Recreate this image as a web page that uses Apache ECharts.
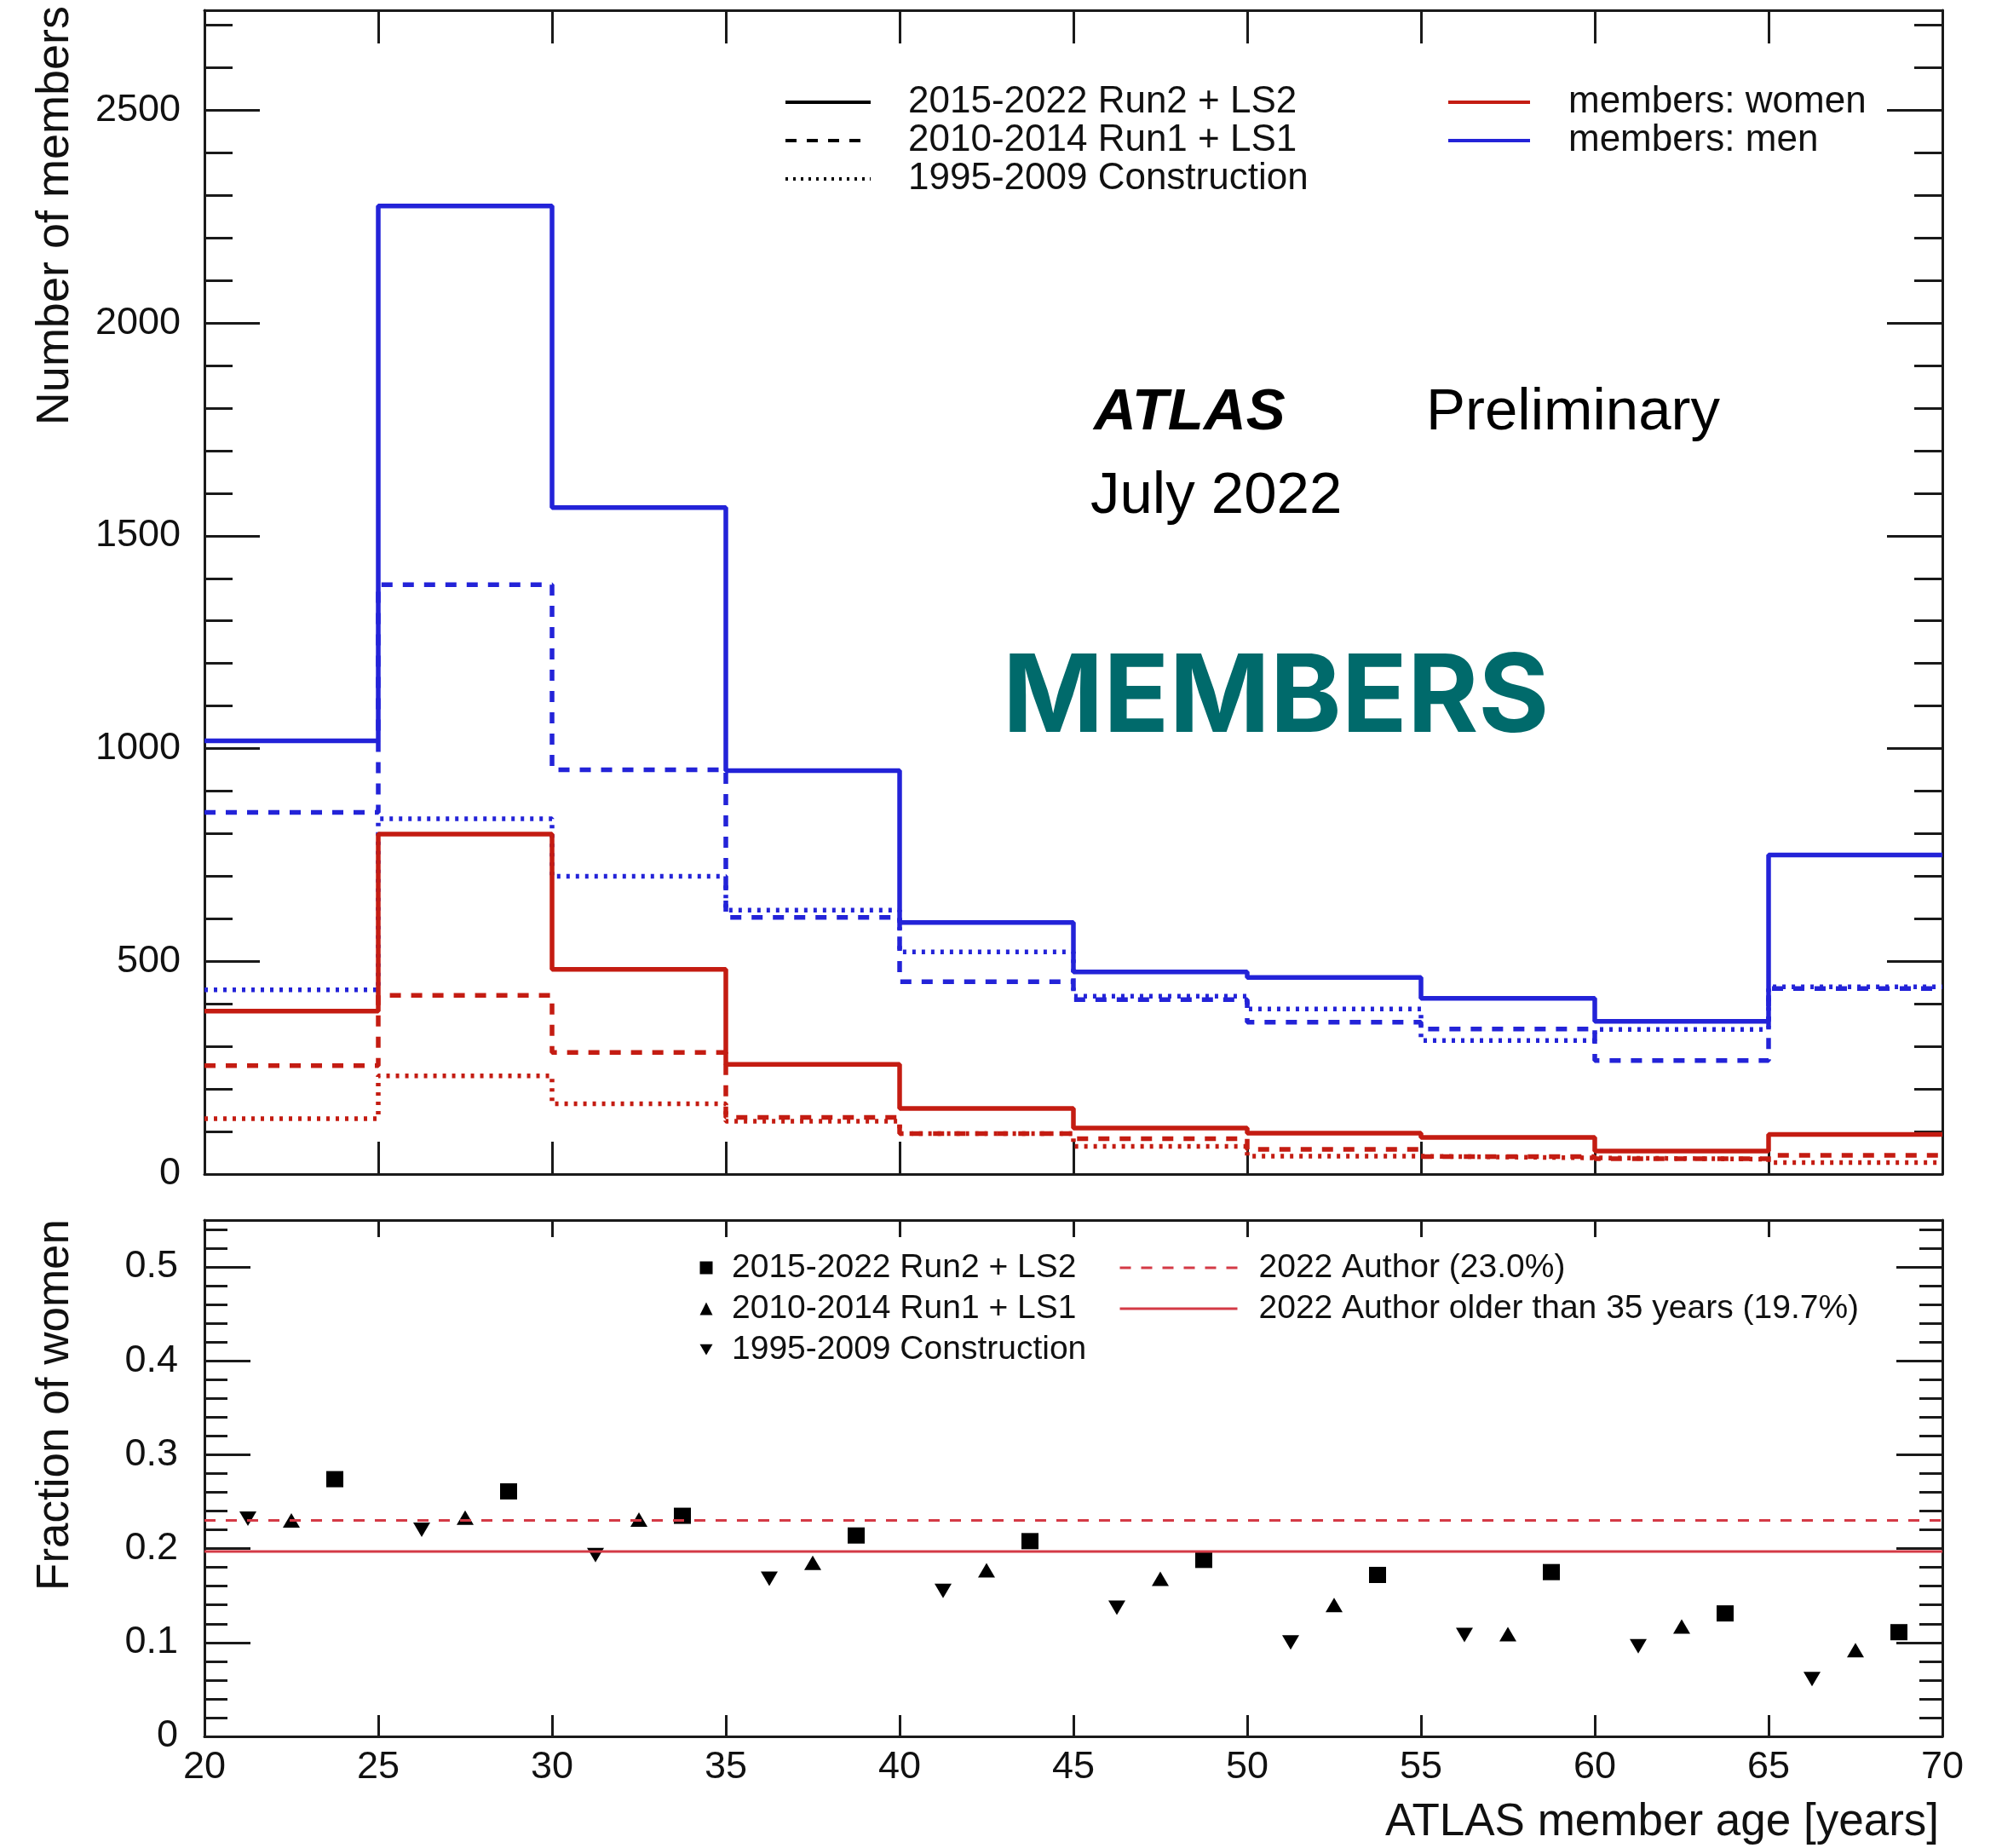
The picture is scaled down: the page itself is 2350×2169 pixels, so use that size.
<!DOCTYPE html>
<html>
<head>
<meta charset="utf-8">
<title>ATLAS members by age</title>
<script src="https://cdn.jsdelivr.net/npm/echarts@6/dist/echarts.min.js"></script>
<style>
  html, body { margin: 0; padding: 0; background: #ffffff; }
  #chart { width: 2350px; height: 2169px; }
</style>
</head>
<body>
<div id="chart"></div>
<script>
// ---- Age binning (years): lower edges plus the last upper edge ----
const ageEdges = [20, 25, 30, 35, 40, 45, 50, 55, 60, 65, 70];
const ageTicks = [20, 25, 30, 35, 40, 45, 50, 55, 60, 65, 70];

// ---- Number of members per age bin ----
const menRun2          = [1018, 2275, 1566, 948, 591, 475, 462, 413, 359, 750];
const menRun1          = [850, 1385, 950, 603, 452, 410, 357, 341, 267, 436];
const menConstruction  = [433, 835, 700, 620, 522, 418, 388, 314, 340, 440];
const womenRun2        = [383, 799, 481, 258, 154, 108, 96, 86, 54, 93];
const womenRun1        = [255, 420, 286, 133, 95, 83, 58, 41, 36, 44];
const womenConstruction = [130, 231, 165, 124, 95, 65, 42, 38, 35, 27];

// ---- Fraction of women per age bin ----
const fracRun2         = [0.274, 0.261, 0.235, 0.214, 0.208, 0.188, 0.172, 0.175, 0.131, 0.111];
const fracRun1         = [0.230, 0.233, 0.231, 0.185, 0.177, 0.168, 0.140, 0.109, 0.117, 0.092];
const fracConstruction = [0.232, 0.220, 0.193, 0.168, 0.155, 0.137, 0.100, 0.108, 0.096, 0.061];

// Position of each period's marker inside its 5-year bin (years from the lower edge)
const markerOffsetRun2 = 3.75;
const markerOffsetRun1 = 2.5;
const markerOffsetConstruction = 1.25;

// ---- Author-list reference fractions ----
const authorFractions = [0.230, 0.197];
const authorLabels = ['2022 Author (23.0%)', '2022 Author older than 35 years (19.7%)'];

// ---- Legend texts ----
const eraLabels = ['2015-2022 Run2 + LS2', '2010-2014 Run1 + LS1', '1995-2009 Construction'];
const genderLabels = ['members: women', 'members: men'];

// ---- Axis tick labels ----
const countTicks = [0, 500, 1000, 1500, 2000, 2500];
const fractionTicks = [0, 0.1, 0.2, 0.3, 0.4, 0.5];
const countMax = 2735;
const fractionMax = 0.55;

// ---- Styling ----
const FONT = 'Liberation Sans';
const INK = '#1a1a1a';
const TEXT = '#111111';
const BLUE = '#2323d8';
const RED = '#c41c12';
const REF_RED = '#d43a46';
const DASH = [13, 12];
const DOT = [4, 7];

const chart = echarts.init(document.getElementById('chart'), null, { renderer: 'canvas' });

// Histogram outline: one point per bin lower edge, plus the closing edge
function histData(vals) {
  return ageEdges.map((e, i) => [e, vals[Math.min(i, vals.length - 1)]]);
}
function markerData(vals, offset) {
  return vals.map((v, i) => [ageEdges[i] + offset, v]);
}

// ---- Axes: each pad gets a full frame with mirrored ticks ----
function xAxisPair(gridIndex, showLabels, bottomLen, topLen) {
  const base = {
    type: 'value', gridIndex, min: ageTicks[0], max: ageTicks[ageTicks.length - 1],
    interval: ageTicks[1] - ageTicks[0],
    splitLine: { show: false },
    axisLine: { show: true, onZero: false, lineStyle: { color: INK, width: 3 } }
  };
  return [
    Object.assign({}, base, {
      position: 'bottom',
      axisTick: { show: true, inside: true, length: bottomLen, lineStyle: { color: INK, width: 3 } },
      axisLabel: showLabels ? {
        show: true, margin: 14, color: TEXT, fontSize: 45, fontFamily: FONT,
        customValues: ageTicks, formatter: v => String(v)
      } : { show: false }
    }),
    Object.assign({}, base, {
      position: 'top',
      axisTick: { show: true, inside: true, length: topLen, lineStyle: { color: INK, width: 3 } },
      axisLabel: { show: false }
    })
  ];
}

function yAxisSet(gridIndex, max, ticks, minorStep, majorLen, minorLen, labelMargin) {
  const major = ticks[1] - ticks[0];
  const common = { type: 'value', gridIndex, min: 0, max, splitLine: { show: false } };
  const frameLine = { show: true, onZero: false, lineStyle: { color: INK, width: 3 } };
  const axes = [];
  ['left', 'right'].forEach(pos => {
    axes.push(Object.assign({}, common, {
      position: pos, interval: major,
      axisLine: frameLine,
      axisTick: { show: true, inside: true, length: majorLen, lineStyle: { color: INK, width: 3 } },
      axisLabel: pos === 'left' ? {
        show: true, margin: labelMargin, color: TEXT, fontSize: 45, fontFamily: FONT,
        customValues: ticks, formatter: v => String(v)
      } : { show: false }
    }));
    axes.push(Object.assign({}, common, {
      position: pos, interval: minorStep,
      axisLine: { show: false },
      axisTick: { show: true, inside: true, length: minorLen, lineStyle: { color: INK, width: 3 } },
      axisLabel: { show: false }
    }));
  });
  return axes;
}

const xAxes = [].concat(
  xAxisPair(0, false, 38, 39),
  xAxisPair(1, true, 25, 20)
);
const yAxes = [].concat(
  yAxisSet(0, countMax, countTicks, 100, 65, 33, 28),
  yAxisSet(1, fractionMax, fractionTicks, 0.02, 54, 27, 31)
);
// yAxis indices: 0 = counts (left), 4 = fractions (left)

function hist(name, vals, color, type) {
  return {
    name, type: 'line', xAxisIndex: 0, yAxisIndex: 0, step: 'end', symbol: 'none',
    silent: true, data: histData(vals),
    lineStyle: { color, width: 5.5, type }, itemStyle: { color }
  };
}
function legendKey(name, color, type) {
  return {
    name, type: 'line', xAxisIndex: 0, yAxisIndex: 0, symbol: 'none', data: [],
    lineStyle: { color, width: 4, type }, itemStyle: { color }
  };
}
function markers(name, vals, offset, symbol, size) {
  return {
    name, type: 'scatter', xAxisIndex: 2, yAxisIndex: 4, silent: true,
    symbol, symbolSize: size, data: markerData(vals, offset),
    itemStyle: { color: '#000000', opacity: 1 }
  };
}
function authorLine(name, value, type) {
  return {
    name, type: 'line', xAxisIndex: 2, yAxisIndex: 4, symbol: 'none', silent: true,
    data: [[ageEdges[0], value], [ageEdges[ageEdges.length - 1], value]],
    lineStyle: { color: REF_RED, width: 3, type }, itemStyle: { color: REF_RED }
  };
}

const DOWN_TRIANGLE = 'path://M0,0L20,0L10,17Z';

const series = [
  // line-style keys for the period legend
  legendKey('style-0', '#000000', 'solid'),
  legendKey('style-1', '#000000', DASH),
  legendKey('style-2', '#000000', [3, 6]),
  // colour keys
  legendKey(genderLabels[0], RED, 'solid'),
  legendKey(genderLabels[1], BLUE, 'solid'),
  // member histograms
  hist('men-construction', menConstruction, BLUE, DOT),
  hist('men-run1', menRun1, BLUE, DASH),
  hist('men-run2', menRun2, BLUE, 'solid'),
  hist('women-construction', womenConstruction, RED, DOT),
  hist('women-run1', womenRun1, RED, DASH),
  hist('women-run2', womenRun2, RED, 'solid'),
  // fraction of women
  authorLine(authorLabels[0], authorFractions[0], DASH),
  authorLine(authorLabels[1], authorFractions[1], 'solid'),
  markers(eraLabels[0], fracRun2, markerOffsetRun2, 'rect', [20, 19]),
  markers(eraLabels[1], fracRun1, markerOffsetRun1, 'triangle', [20, 17]),
  markers(eraLabels[2], fracConstruction, markerOffsetConstruction, DOWN_TRIANGLE, [20, 17])
];

const legendText = (size, lh, padLeft) => ({
  fontSize: size, fontFamily: FONT, color: TEXT, lineHeight: lh, padding: [0, 0, 0, padLeft]
});

const legends = [
  {
    data: ['style-0', 'style-1', 'style-2'],
    formatter: name => eraLabels[Number(name.split('-')[1])],
    orient: 'vertical', left: 920, top: 97.5, padding: 0, itemGap: 0,
    itemWidth: 100, itemHeight: 4, selectedMode: false,
    itemStyle: { opacity: 0 }, lineStyle: { width: 4 },
    textStyle: legendText(44, 45, 39)
  },
  {
    data: genderLabels,
    orient: 'vertical', left: 1698, top: 97.5, padding: 0, itemGap: 0,
    itemWidth: 96, itemHeight: 4, selectedMode: false,
    itemStyle: { opacity: 0 }, lineStyle: { width: 4 },
    textStyle: legendText(44, 45, 40)
  },
  {
    data: eraLabels,
    orient: 'vertical', left: 821.5, top: 1464, padding: 0, itemGap: 0,
    itemWidth: 15, itemHeight: 15, selectedMode: false,
    textStyle: legendText(39, 48, 17.5)
  },
  {
    data: authorLabels,
    orient: 'vertical', left: 1313, top: 1464, padding: 0, itemGap: 0,
    itemWidth: 138, itemHeight: 3, selectedMode: false,
    itemStyle: { opacity: 0 }, lineStyle: { width: 3 },
    textStyle: legendText(39, 48, 20)
  }
];

const textEl = (x, y, text, style, rotation) => ({
  type: 'text', x, y, rotation: rotation || 0, silent: true,
  style: Object.assign({ text, fill: TEXT, fontFamily: FONT, align: 'left', verticalAlign: 'middle' }, style)
});

const graphics = [
  textEl(65, 7, 'Number of members', { fontSize: 54, align: 'right' }, Math.PI / 2),
  textEl(65, 1431, 'Fraction of women', { fontSize: 53, align: 'right' }, Math.PI / 2),
  textEl(2276, 2139, 'ATLAS member age [years]', { fontSize: 53, align: 'right' }),
  textEl(1284, 485, 'ATLAS', { fontSize: 69, fontWeight: 'bold', fontStyle: 'italic', fill: '#000' }),
  textEl(1674, 485, 'Preliminary', { fontSize: 69, fill: '#000' }),
  textEl(1280, 583, 'July 2022', { fontSize: 69, fill: '#000' }),
  textEl(1177, 821, 'MEMBERS', { fontSize: 127, fontWeight: 'bold', fontFamily: 'Inter', fill: '#006a6b' })
];

chart.setOption({
  animation: false,
  backgroundColor: '#ffffff',
  grid: [
    { left: 240, top: 12, width: 2040, height: 1366, containLabel: false },
    { left: 240, top: 1432, width: 2040, height: 606, containLabel: false }
  ],
  xAxis: xAxes,
  yAxis: yAxes,
  legend: legends,
  series,
  graphic: graphics
});
</script>
</body>
</html>
